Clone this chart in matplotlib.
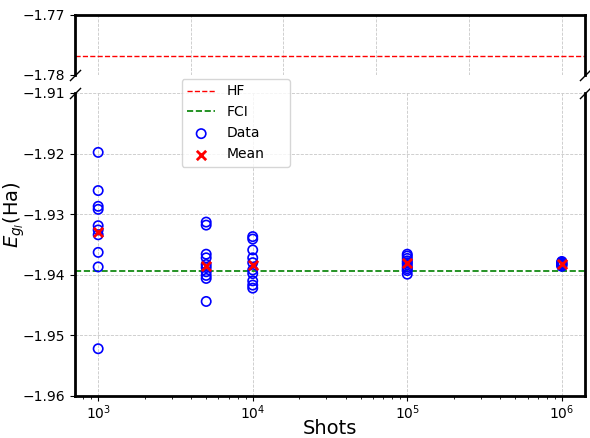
import numpy as np
import matplotlib
matplotlib.use('Agg')
import matplotlib.pyplot as plt

# energies (Ha) from repeated runs at each shot count
shots = [1000, 5000, 10000, 100000, 1000000]
e_1e3 = [-1.9198, -1.9261, -1.9287, -1.9292, -1.9319, -1.9326, -1.9334, -1.9363, -1.9387, -1.9522]
e_5e3 = [-1.9313, -1.9318, -1.9366, -1.9372, -1.9383, -1.9388, -1.9395, -1.9401, -1.9406, -1.9444]
e_1e4 = [-1.9337, -1.9341, -1.9359, -1.9372, -1.9380, -1.9392, -1.9398, -1.9410, -1.9417, -1.9422]
e_1e5 = [-1.9366, -1.9369, -1.9373, -1.9377, -1.9380, -1.9383, -1.9387, -1.9390, -1.9393, -1.9399]
e_1e6 = [-1.9378, -1.9379, -1.9380, -1.9381, -1.9382, -1.9382, -1.9383, -1.9384, -1.9385, -1.9386]
means = [-1.9329, -1.9386, -1.9384, -1.9381, -1.9382]

E_HF = -1.7769
E_FCI = -1.9394

runs = [e_1e3, e_5e3, e_1e4, e_1e5, e_1e6]
xs = np.concatenate([[s]*len(r) for s, r in zip(shots, runs)])
ys = np.concatenate(runs)

fig = plt.figure(figsize=(5.9, 4.38), dpi=100)
ax1 = fig.add_axes([0.1271, 0.8288, 0.8644, 0.137])
ax2 = fig.add_axes([0.1271, 0.0959, 0.8644, 0.6918])

for ax in (ax1, ax2):
    ax.axhline(E_HF, color='r', linestyle='--', linewidth=1.0, label='HF')
    ax.axhline(E_FCI, color='g', linestyle='--', linewidth=1.2, label='FCI')
    ax.scatter(xs, ys, s=45, facecolors='none', edgecolors='b', linewidths=1.2, label='Data', zorder=3)
    ax.scatter(shots, means, s=45, marker='x', color='r', linewidths=2, label='Mean', zorder=4)
    ax.grid(True, linestyle='--', linewidth=0.6, color='#c8c8c8')
    for sp in ax.spines.values():
        sp.set_linewidth(2)

ax2.set_xscale('log')

ax1.set_ylim(-1.78, -1.77)
ax1.set_yticks([-1.78, -1.77])
ax2.set_ylim(-1.96, -1.91)
ax2.set_yticks([-1.96, -1.95, -1.94, -1.93, -1.92, -1.91])

ax1.spines['bottom'].set_visible(False)
ax2.spines['top'].set_visible(False)
ax1.tick_params(axis='x', bottom=False, labelbottom=False)
ax2.tick_params(axis='x', pad=2)

# break marks
kw = dict(marker=[(-1, -1), (1, 1)], markersize=8, linestyle='none',
          color='k', mec='k', mew=1, clip_on=False)
ax1.plot([0, 1], [0, 0], transform=ax1.transAxes, **kw)
ax2.plot([0, 1], [1, 1], transform=ax2.transAxes, **kw)

ax2.set_xlabel('Shots', fontsize=14, labelpad=-2)
fig.text(0.024, 0.509, r'$E_{g_l}$(Ha)', rotation=90, va='center', ha='center', fontsize=14)

h, l = ax2.get_legend_handles_labels()
fig.legend(h, l, loc='upper left', mode='expand', fontsize=10, borderaxespad=0,
           bbox_to_anchor=(0.308, 0.612, 0.183, 0.208))

fig.savefig('out.png', dpi=100)
